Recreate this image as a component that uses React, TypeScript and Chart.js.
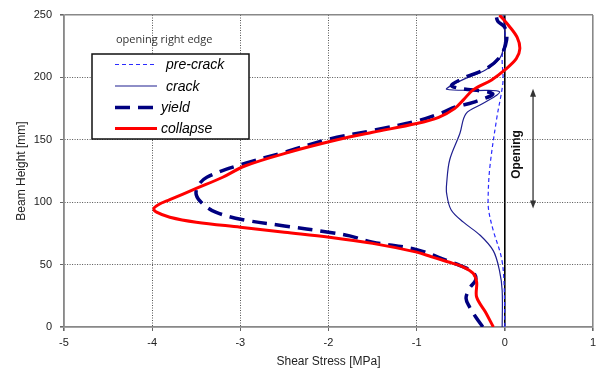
import React, { useEffect, useRef } from "react";
import { Chart, registerables } from "chart.js";

Chart.register(...registerables);

// ---- data (stress in MPa along x, beam height in mm along y) ----
const seriesLabels = ["pre-crack", "crack", "yield", "collapse"];

const preCrackX = [0, -0.01, -0.04, -0.13, -0.18, -0.19, -0.17, -0.09, -0.04, -0.02, -0.03, 0, 0];
const preCrackY = [0, 37, 56, 77, 92, 102, 128, 168, 187, 198, 216, 230, 250];

const crackX = [-0.03, -0.03, -0.06, -0.13, -0.28, -0.47, -0.61, -0.66, -0.66, -0.625, -0.51, -0.44, -0.25, -0.06, -0.35, -0.66, -0.62, -0.45, -0.22, -0.06, -0.01, 0.0, -0.02];
const crackY = [0, 29, 45, 61, 73.5, 84, 94, 107, 115, 134, 155, 171, 179, 188.5, 189.5, 190.5, 193, 199, 206, 215, 225, 235, 250];

const yieldX = [-0.25, -0.33, -0.4, -0.44, -0.4, -0.33, -0.36, -0.5, -0.65, -1.0, -1.5, -1.76, -2.0, -2.5, -2.97, -3.28, -3.43, -3.5, -3.48, -3.38, -3.0, -2.5, -2.0, -1.46, -1.0, -0.74, -0.55, -0.36, -0.14, -0.6, -0.45, -0.21, -0.05, 0.02, 0.0, -0.08, -0.1];
const yieldY = [0, 8, 16, 23, 31, 38, 44, 49, 53, 62, 68, 73, 76, 81, 86, 92, 99, 106, 113, 120, 130, 140, 150.5, 158, 165, 171, 176.5, 180, 187, 193, 200, 207, 217, 230, 240, 245, 250];

const collapseX = [-0.13, -0.22, -0.32, -0.32, -0.36, -0.47, -0.59, -0.82, -1.0, -1.5, -1.99, -2.5, -3.0, -3.5, -3.8, -3.95, -3.98, -3.93, -3.8, -3.5, -3.2, -2.95, -2.45, -1.9, -1.5, -1.0, -0.75, -0.57, -0.47, -0.36, -0.15, 0.0, 0.13, 0.17, 0.14, 0.05, -0.06];
const collapseY = [0, 12, 24, 36, 43, 48, 51, 56, 60, 67, 72, 76, 80, 84, 88, 92, 95, 98, 102, 111, 120, 129, 140, 150, 156, 163, 168, 175, 182, 190, 198, 206, 215, 223, 232, 241, 250];

const xMin = -5;
const xMax = 1;
const yMin = 0;
const yMax = 250;
const xStep = 1;
const yStep = 50;

const xTitle = "Shear Stress [MPa]";
const yTitle = "Beam Height [mm]";
const noteText = "opening right edge";
const openingLabel = "Opening";
const openingArrowX = 0.32;
const openingFrom = 95;
const openingTo = 191;

const FONT = "'Liberation Sans', Arial, sans-serif";

function pts(xs: number[], ys: number[]) {
  return xs.map((x, i) => ({ x, y: ys[i] }));
}

const overlayPlugin = {
  id: "overlay",
  afterDatasetsDraw(chart: any) {
    const ctx = chart.ctx;
    const xs = chart.scales.x;
    const ys = chart.scales.y;
    ctx.save();

    // note text
    ctx.fillStyle = "#333";
    ctx.font = `11px 'Open Sans', ${FONT}`;
    ctx.textAlign = "left";
    ctx.textBaseline = "middle";
    ctx.fillText(noteText, 116, 40);

    // legend box
    const bx = 92, by = 54, bw = 157, bh = 85;
    ctx.fillStyle = "#fff";
    ctx.fillRect(bx, by, bw, bh);
    ctx.strokeStyle = "#111";
    ctx.lineWidth = 1.5;
    ctx.setLineDash([]);
    ctx.strokeRect(bx, by, bw, bh);
    const rowYs = [64.5, 86, 107.5, 128.5];
    const textXs = [166, 166, 161, 161];
    const legendOrder = [0, 1, 2, 3];
    legendOrder.forEach((di, r) => {
      const ds = chart.data.datasets[di];
      const yy = rowYs[r];
      ctx.beginPath();
      ctx.strokeStyle = ds.borderColor;
      ctx.lineWidth = ds.borderWidth;
      ctx.setLineDash(ds.borderDash || []);
      ctx.moveTo(115, yy);
      ctx.lineTo(157, yy);
      ctx.stroke();
      ctx.setLineDash([]);
      ctx.fillStyle = "#000";
      ctx.font = `italic 14px ${FONT}`;
      ctx.textAlign = "left";
      ctx.textBaseline = "middle";
      ctx.fillText(ds.label, textXs[r], yy + 1);
    });

    // opening arrow
    const ax = xs.getPixelForValue(openingArrowX);
    const ay1 = ys.getPixelForValue(openingTo);
    const ay2 = ys.getPixelForValue(openingFrom);
    ctx.strokeStyle = "#333";
    ctx.fillStyle = "#333";
    ctx.lineWidth = 1.3;
    ctx.beginPath();
    ctx.moveTo(ax, ay1 + 4);
    ctx.lineTo(ax, ay2 - 4);
    ctx.stroke();
    const head = (y: number, dir: number) => {
      ctx.beginPath();
      ctx.moveTo(ax, y);
      ctx.lineTo(ax - 3, y + dir * 8);
      ctx.lineTo(ax + 3, y + dir * 8);
      ctx.closePath();
      ctx.fill();
    };
    head(ay1, 1);
    head(ay2, -1);

    // opening label
    ctx.save();
    ctx.translate(xs.getPixelForValue(0) + 12, (ay1 + ay2) / 2 + 6);
    ctx.rotate(-Math.PI / 2);
    ctx.font = `bold 12px ${FONT}`;
    ctx.fillStyle = "#111";
    ctx.textAlign = "center";
    ctx.textBaseline = "middle";
    ctx.fillText(openingLabel, 0, 0);
    ctx.restore();

    ctx.restore();
  },
};

export default function App() {
  const ref = useRef<HTMLCanvasElement | null>(null);

  useEffect(() => {
    document.body.style.margin = "0";
    const canvas = ref.current;
    if (!canvas) return;

    const edgeX = (v: number) => v === xMin || v === xMax;
    const edgeY = (v: number) => v === yMin || v === yMax;

    const chart = new Chart(canvas, {
      type: "scatter",
      data: {
        datasets: [
          {
            label: seriesLabels[0],
            data: pts(preCrackX, preCrackY),
            showLine: true,
            borderColor: "#2b2bff",
            borderWidth: 1.2,
            borderDash: [4, 3],
            pointRadius: 0,
            tension: 0.35,
            order: 3,
          },
          {
            label: seriesLabels[1],
            data: pts(crackX, crackY),
            showLine: true,
            borderColor: "#1f1f8f",
            borderWidth: 1.2,
            pointRadius: 0,
            tension: 0.35,
            order: 2,
          },
          {
            label: seriesLabels[2],
            data: pts(yieldX, yieldY),
            showLine: true,
            borderColor: "#000080",
            borderWidth: 3.5,
            borderDash: [15, 8],
            pointRadius: 0,
            tension: 0.35,
            order: 1,
          },
          {
            label: seriesLabels[3],
            data: pts(collapseX, collapseY),
            showLine: true,
            borderColor: "#ff0000",
            borderWidth: 3,
            pointRadius: 0,
            tension: 0.35,
            order: 0,
          },
        ],
      },
      options: {
        responsive: false,
        animation: false,
        layout: { padding: { top: 15, right: 5, left: 0, bottom: 0 } },
        plugins: {
          legend: { display: false },
          tooltip: { enabled: false },
        },
        scales: {
          x: {
            type: "linear",
            min: xMin,
            max: xMax,
            afterFit: (s: any) => {
              s.height = 44;
              s.paddingLeft = 0;
              s.paddingRight = 0;
            },
            ticks: {
              stepSize: xStep,
              color: "#222",
              font: { family: FONT, size: 11 },
              padding: 5,
              maxRotation: 0,
            },
            grid: {
              color: (c: any) => {
                const v = c.tick ? c.tick.value : NaN;
                if (v === 0) return "#000";
                if (edgeX(v)) return "#888";
                return "#555";
              },
              lineWidth: (c: any) => {
                const v = c.tick ? c.tick.value : NaN;
                if (v === 0) return 1.6;
                if (edgeX(v)) return 1.6;
                return 1;
              },
              tickColor: "#666",
              tickLength: 4,
            },
            border: {
              color: "#888",
              width: 1.6,
              dash: (c: any) => {
                const v = c.tick ? c.tick.value : NaN;
                if (v === 0 || edgeX(v)) return [];
                return [1, 1.5];
              },
            },
            title: {
              display: true,
              text: xTitle,
              color: "#222",
              font: { family: FONT, size: 12 },
              padding: { top: 0, bottom: 2 },
            },
          },
          y: {
            type: "linear",
            min: yMin,
            max: yMax,
            afterFit: (s: any) => {
              s.width = 64;
              s.paddingTop = 0;
              s.paddingBottom = 0;
            },
            ticks: {
              stepSize: yStep,
              color: "#222",
              font: { family: FONT, size: 11 },
              padding: 8,
            },
            grid: {
              color: (c: any) => {
                const v = c.tick ? c.tick.value : NaN;
                if (edgeY(v)) return "#888";
                return "#555";
              },
              lineWidth: (c: any) => {
                const v = c.tick ? c.tick.value : NaN;
                if (edgeY(v)) return 1.6;
                return 1;
              },
              tickColor: "#666",
              tickLength: 4,
            },
            border: {
              color: "#888",
              width: 1.6,
              dash: (c: any) => {
                const v = c.tick ? c.tick.value : NaN;
                if (edgeY(v)) return [];
                return [1, 1.5];
              },
            },
            title: {
              display: true,
              text: yTitle,
              color: "#222",
              font: { family: FONT, size: 12 },
              padding: { top: 14, bottom: 0 },
            },
          },
        },
      },
      plugins: [overlayPlugin],
    } as any);

    return () => chart.destroy();
  }, []);

  return (
    <div style={{ width: 598, height: 371, background: "#fff" }}>
      <canvas ref={ref} width={598} height={371} style={{ display: "block" }} />
    </div>
  );
}
